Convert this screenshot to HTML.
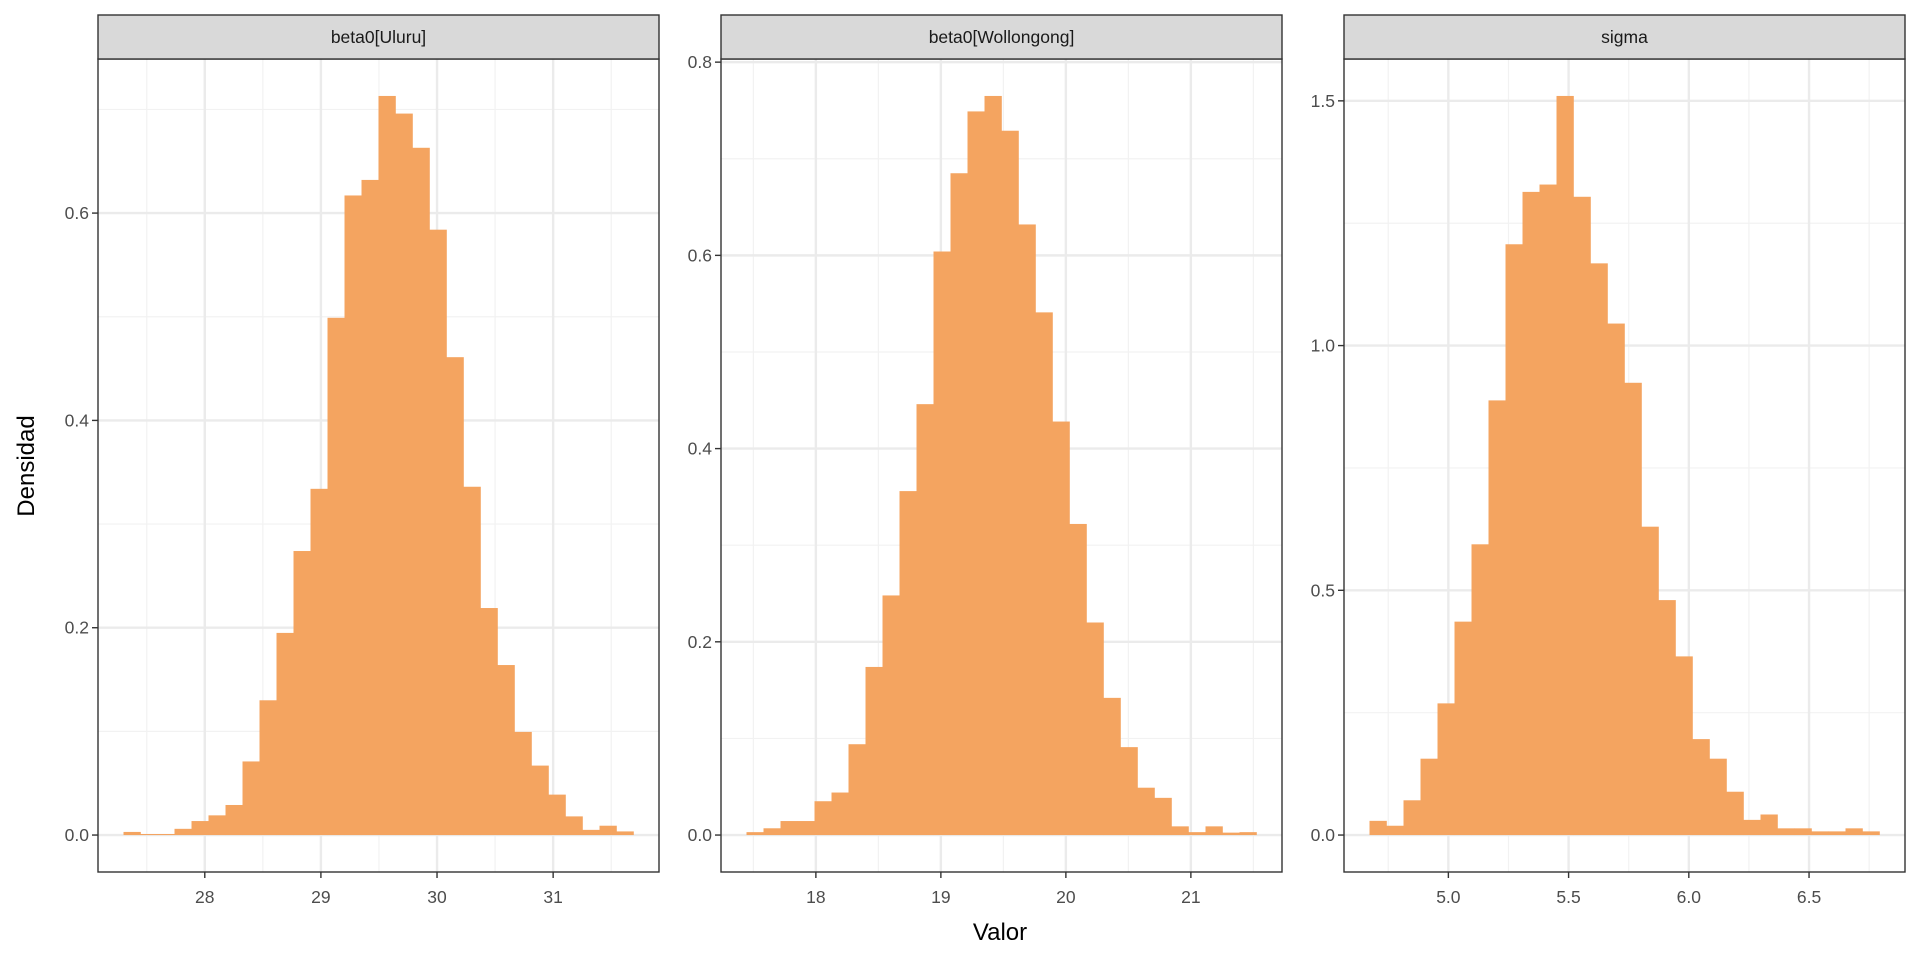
<!DOCTYPE html>
<html><head><meta charset="utf-8"><style>
html,body{margin:0;padding:0;background:#fff;}
svg{display:block;font-family:"Liberation Sans",sans-serif;}
</style></head><body>
<svg id="chart" width="1920" height="960" viewBox="0 0 1920 960">
<rect x="0" y="0" width="1920" height="960" fill="#fff"/>
<text x="1000" y="940" text-anchor="middle" font-size="24" fill="#000">Valor</text>
<text x="0" y="0" transform="translate(34,466) rotate(-90)" text-anchor="middle" font-size="24" fill="#000">Densidad</text>
</svg>
<script>
// Panel titles
const panelTitles = ["beta0[Uluru]", "beta0[Wollongong]", "sigma"];
// Histogram bin starts and widths
const binStarts = [27.30, 17.445, 4.672];
const binWidths = [0.1464, 0.136, 0.0707];
// Densities per bin
const densUluru = [0.003,0.001,0.001,0.006,0.0135,0.019,0.029,0.071,0.130,0.195,0.274,0.334,0.499,0.617,0.632,0.713,0.696,0.663,0.584,0.461,0.336,0.219,0.164,0.0995,0.067,0.039,0.018,0.005,0.009,0.0035];
const densWollongong = [0.003,0.007,0.0145,0.0145,0.035,0.044,0.094,0.174,0.248,0.356,0.446,0.604,0.685,0.749,0.765,0.729,0.632,0.541,0.428,0.322,0.220,0.142,0.091,0.049,0.0385,0.009,0.003,0.009,0.0025,0.003];
const densSigma = [0.029,0.019,0.071,0.156,0.269,0.436,0.594,0.888,1.207,1.314,1.329,1.510,1.304,1.168,1.045,0.924,0.630,0.480,0.365,0.196,0.156,0.0885,0.031,0.042,0.0137,0.0137,0.0075,0.0075,0.0137,0.0075];
// Tick labels
const xTicks1 = [28,29,30,31];
const xTicks2 = [18,19,20,21];
const xTicks3 = [5.0,5.5,6.0,6.5];
const yTicks1 = [0.0,0.2,0.4,0.6];
const yTicks2 = [0.0,0.2,0.4,0.6,0.8];
const yTicks3 = [0.0,0.5,1.0,1.5];

const NS = "http://www.w3.org/2000/svg";
const svg = document.getElementById("chart");
function mk(tag, attrs, parent){
  const e = document.createElementNS(NS, tag);
  for (const k in attrs) e.setAttribute(k, attrs[k]);
  (parent||svg).appendChild(e);
  return e;
}
const panelsX = [[98,659],[721,1282],[1344,1905]];
const stripTop = 15, plotTop = 59, plotBot = 872;
const allDens = [densUluru, densWollongong, densSigma];
const allX = [xTicks1, xTicks2, xTicks3];
const allY = [yTicks1, yTicks2, yTicks3];
const decX = [0,0,1];
const decY = [1,1,1];

for (let p=0;p<3;p++){
  const dens = allDens[p], n = dens.length;
  const x0 = binStarts[p], xw = binWidths[p], x1 = x0 + n*xw;
  const xr = x1 - x0, xmin = x0 - 0.05*xr, xmax = x1 + 0.05*xr;
  const m = Math.max(...dens), ymin = -0.05*m, ymax = 1.05*m;
  const L = panelsX[p][0], R = panelsX[p][1];
  const sx = v => L + (v - xmin)/(xmax - xmin)*(R - L);
  const sy = v => plotBot - (v - ymin)/(ymax - ymin)*(plotBot - plotTop);
  const g = mk("g", {});
  
  
  mk("rect",{x:L,y:plotTop,width:R-L,height:plotBot-plotTop,fill:"#fff"},g);
  const xt = allX[p], yt = allY[p];
  const xstep = xt[1]-xt[0], ystep = yt[1]-yt[0];
  // minor grid
  for (let v = xt[0]-xstep/2; v <= xmax; v += xstep){
    if (v < xmin) continue;
    const l = mk("line",{x1:sx(v),x2:sx(v),y1:plotTop,y2:plotBot,stroke:"#f2f2f2","stroke-width":1.2},g);
    
    
  }
  for (let v = yt[0]+ystep/2; v <= ymax; v += ystep){
    const l = mk("line",{x1:L,x2:R,y1:sy(v),y2:sy(v),stroke:"#f2f2f2","stroke-width":1.2},g);
    
    
  }
  // major grid
  xt.forEach(v=>{
    const l = mk("line",{x1:sx(v),x2:sx(v),y1:plotTop,y2:plotBot,stroke:"#ebebeb","stroke-width":2.4},g);
    
    
  });
  yt.forEach(v=>{
    const l = mk("line",{x1:L,x2:R,y1:sy(v),y2:sy(v),stroke:"#ebebeb","stroke-width":2.4},g);
    
    
  });
  // bars
  dens.forEach((d,i)=>{
    const a = sx(x0 + i*xw), b = sx(x0 + (i+1)*xw);
    const r = mk("rect",{x:a,y:sy(d),width:b-a+0.3,height:sy(0)-sy(d),fill:"#f4a460"},g);
    
    
  });
  // border
  mk("rect",{x:L,y:plotTop,width:R-L,height:plotBot-plotTop,fill:"none",stroke:"#333","stroke-width":1.4},g);
  // strip
  const s = mk("rect",{x:L,y:stripTop,width:R-L,height:plotTop-stripTop,fill:"#d9d9d9",stroke:"#333","stroke-width":1.4},g);
  
  
  const st = mk("text",{x:(L+R)/2,y:43,"text-anchor":"middle","font-size":17.5,fill:"#1a1a1a"},g);
  st.textContent = panelTitles[p];
  
  
  // x ticks
  xt.forEach(v=>{
    mk("line",{x1:sx(v),x2:sx(v),y1:plotBot,y2:plotBot+6,stroke:"#333","stroke-width":1.4},g);
    const t = mk("text",{x:sx(v),y:903,"text-anchor":"middle","font-size":17.5,fill:"#4d4d4d"},g);
    t.textContent = v.toFixed(decX[p]);
    
    
  });
  // y ticks
  yt.forEach(v=>{
    mk("line",{x1:L-6,x2:L,y1:sy(v),y2:sy(v),stroke:"#333","stroke-width":1.4},g);
    const t = mk("text",{x:L-9,y:sy(v)+6,"text-anchor":"end","font-size":17.5,fill:"#4d4d4d"},g);
    t.textContent = v.toFixed(decY[p]);
    
    
  });
}
</script>
</body></html>
